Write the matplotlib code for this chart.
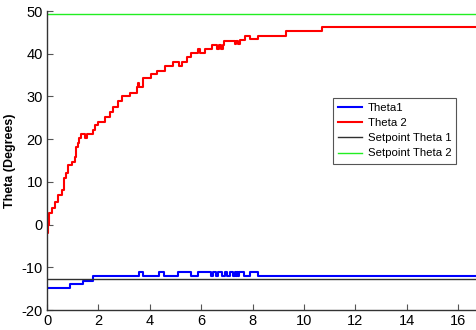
import matplotlib
matplotlib.use('Agg')
import matplotlib.pyplot as plt
import numpy as np

# Theta 2 (red), stepwise samples: time (s) and angle (deg)
t2_time = [0, 0.03, 0.09, 0.18, 0.31, 0.44, 0.57, 0.66, 0.75, 0.83, 0.96, 1.09,
           1.13, 1.2, 1.26, 1.31, 1.48, 1.54, 1.8, 1.87, 2.0, 2.26, 2.45, 2.58,
           2.78, 2.9, 3.23, 3.49, 3.53, 3.58, 3.75, 4.03, 4.27, 4.59, 4.92, 5.15,
           5.24, 5.43, 5.59, 5.89, 5.95, 6.15, 6.41, 6.6, 6.68, 6.78, 6.84, 6.89,
           7.3, 7.35, 7.45, 7.5, 7.7, 7.9, 8.22, 9.3, 10.69, 17]
t2_vals = [-2, 0, 2.6, 3.8, 5.3, 6.9, 8.1, 10.8, 12, 13.9, 14.7, 15.9,
           18.2, 19.2, 20.2, 21.2, 20.2, 21.2, 22.1, 23.3, 24.1, 25.2, 26.4, 27.6,
           28.9, 30.1, 30.9, 32.3, 33.2, 32.3, 34.2, 35.2, 36.0, 37.1, 38.0, 37.1,
           38.1, 39.2, 40.1, 41.0, 40.1, 41.0, 42.0, 41.0, 42.0, 41.0, 42.0, 43.0,
           42.2, 43.0, 42.2, 43.2, 44.2, 43.5, 44.2, 45.3, 46.3, 46.3]

# Theta 1 (blue)
t1_time = [0, 0.9, 1.41, 1.8, 3.58, 3.75, 4.37, 4.57, 5.11, 5.6, 5.89, 6.4,
           6.47, 6.58, 6.66, 6.79, 6.92, 7.0, 7.12, 7.24, 7.3, 7.34, 7.4, 7.44,
           7.48, 7.68, 7.9, 8.22, 17]
t1_vals = [-14.9, -13.9, -13.1, -12, -11.1, -12, -11.1, -12, -11.1, -12, -11.1, -12,
           -11.1, -12, -11.1, -12, -11.1, -12, -11.1, -12, -11.1, -12, -11.1, -12,
           -11.1, -12, -11.1, -12, -12]

setpoint1 = -12.8
setpoint2 = 49.3
x_ticks = [0, 2, 4, 6, 8, 10, 12, 14, 16]
y_ticks = [-20, -10, 0, 10, 20, 30, 40, 50]

plt.rcParams['font.family'] = ['Liberation Sans', 'DejaVu Sans']
plt.rcParams['axes.unicode_minus'] = False

fig = plt.figure(figsize=(4.76, 3.30), dpi=100)
ax = fig.add_axes([47 / 476, 20 / 330, 429 / 476, 299 / 330])

ax.plot(t1_time, t1_vals, color='#0000ff', lw=1.5, drawstyle='steps-post', label='Theta1')
ax.plot(t2_time, t2_vals, color='#ff0000', lw=1.5, drawstyle='steps-post', label='Theta 2')
ax.axhline(setpoint1, color='#303030', lw=1.0, label='Setpoint Theta 1')
ax.axhline(setpoint2, color='#22ee22', lw=1.0, label='Setpoint Theta 2')

ax.set_xlim(0, 429 / 25.7)
ax.set_ylim(-20, 50)
ax.set_xticks(x_ticks)
ax.set_yticks(y_ticks)
ax.tick_params(direction='in', length=4, color='#555555', labelsize=10.5, pad=3)
for s in ['top', 'right']:
    ax.spines[s].set_visible(False)
for s in ['left', 'bottom']:
    ax.spines[s].set_color('#333333')
    ax.spines[s].set_linewidth(1.0)

ax.set_ylabel('Theta (Degrees)', fontsize=9, fontweight='bold', labelpad=4)

leg = ax.legend(loc='upper left', bbox_to_anchor=(333 / 476, 1 - 98 / 330),
                bbox_transform=fig.transFigure, borderaxespad=0, fontsize=8.2,
                fancybox=False, framealpha=1, edgecolor='#555555',
                handlelength=2.1, labelspacing=0.45, borderpad=0.45, handletextpad=0.5)
leg.get_frame().set_linewidth(0.8)

plt.savefig('out.png', dpi=100)
